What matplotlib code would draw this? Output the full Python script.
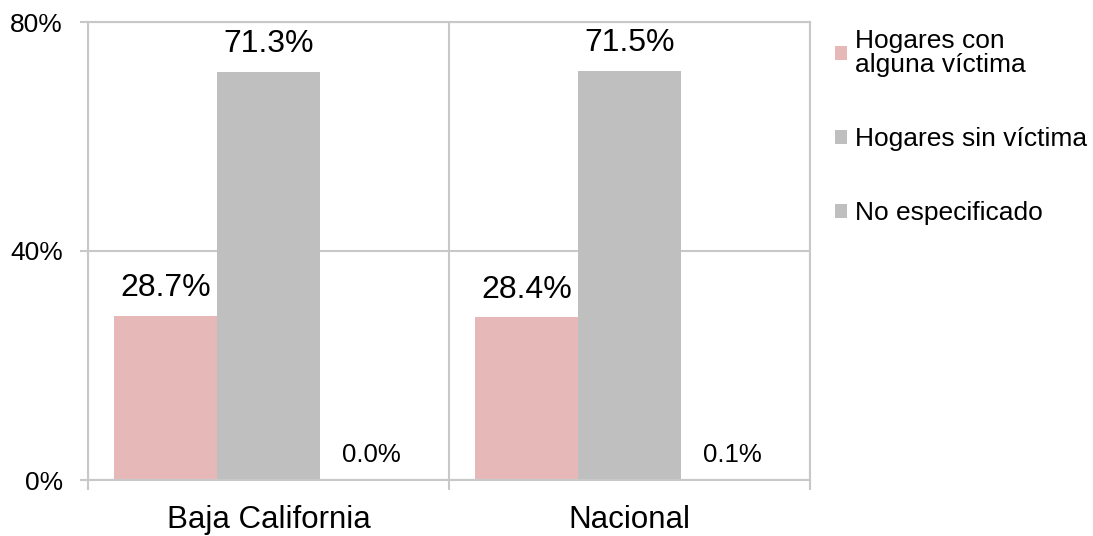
import numpy as np
import matplotlib
matplotlib.use('Agg')
import matplotlib.pyplot as plt
from matplotlib.patches import Patch

plt.rcParams['font.family'] = ['Liberation Sans', 'DejaVu Sans']

# datos
categorias = ['Baja California', 'Nacional']
series = ['Hogares con\nalguna víctima', 'Hogares sin víctima', 'No especificado']
con_victima = [28.7, 28.4]
sin_victima = [71.3, 71.5]
no_especificado = [0.0, 0.1]
colores = ['#E6B9B8', '#BFBFBF', '#BFBFBF']
etiquetas_y = ['0%', '40%', '80%']

valores = [con_victima, sin_victima, no_especificado]
grid_col = '#C8C8C8'

fig = plt.figure(figsize=(10.93, 5.36), dpi=100)
ax = fig.add_axes([88/1093, 56/536, (810-88)/1093, (480-22)/536])

w = 0.286
x = np.arange(len(categorias)) + 0.5
for i, (vals, col) in enumerate(zip(valores, colores)):
    xs = x + (i - 1) * w
    ax.bar(xs, vals, width=w, color=col, zorder=2)
    for xi, v in zip(xs, vals):
        ax.annotate(f'{v:.1f}%', (xi, v), xytext=(0, 9), textcoords='offset points',
                    ha='center', va='bottom',
                    fontsize=23 if v > 1 else 18.5)

ax.set_xlim(0, 2)
ax.set_ylim(0, 80)
ax.set_yticks([0, 40, 80])
ax.set_yticklabels(etiquetas_y, fontsize=19)
ax.set_xticks([0, 1, 2])
ax.set_xticklabels([])
ax.set_xticks(x, minor=True)
ax.set_xticklabels(categorias, minor=True, fontsize=22.5)
ax.tick_params(axis='x', which='major', length=7, color=grid_col, width=1.5)
ax.tick_params(axis='x', which='minor', length=0, pad=18)
ax.tick_params(axis='y', length=6, color=grid_col, width=1.5, pad=12)
ax.grid(True, which='major', color=grid_col, linewidth=1.5, zorder=0)
for s in ax.spines.values():
    s.set_color(grid_col)
    s.set_linewidth(1.5)

handles = [Patch(facecolor=c, edgecolor='none') for c in colores]
leg = fig.legend(handles, series, loc='upper left', bbox_to_anchor=(835/1093, (536-29)/536),
                 frameon=False, fontsize=19, handlelength=0.46, handleheight=0.46,
                 handletextpad=0.3, labelspacing=1.9, borderpad=0, borderaxespad=0)
leg.get_texts()[0].set_linespacing(1.0)

plt.savefig('out.png', dpi=100)
